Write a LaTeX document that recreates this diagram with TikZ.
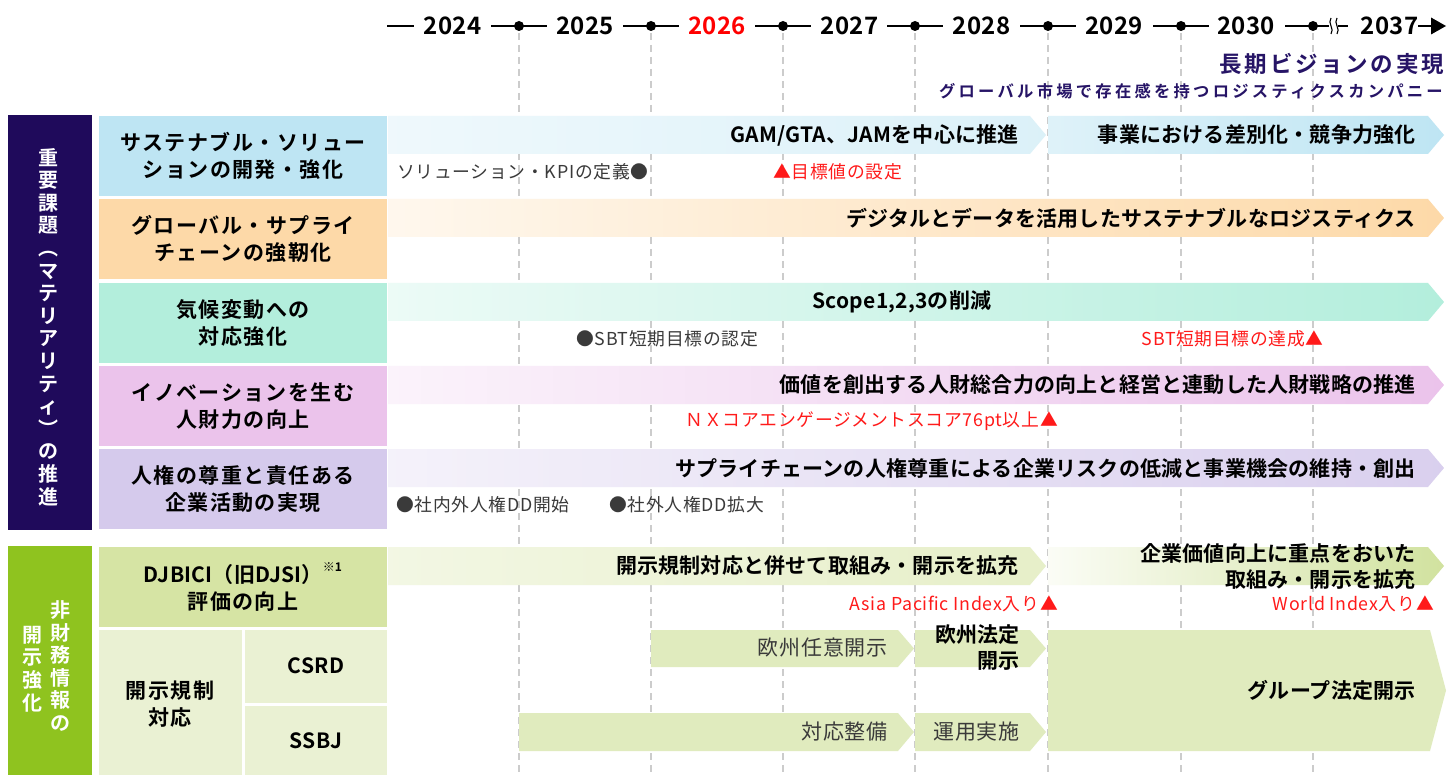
\documentclass[tikz,border=0pt]{standalone}
\usepackage{fontspec}
\setmainfont{Noto Sans CJK JP}[BoldFont={Noto Sans CJK JP Bold}]
\newfontfamily\lblfont{Noto Sans CJK JP Bold}[LetterSpace=7]
\newfontfamily\barfont{Noto Sans CJK JP Bold}[LetterSpace=1]
\newfontfamily\ttlfont{Noto Sans CJK JP Bold}[LetterSpace=12]
\newfontfamily\stlfont{Noto Sans CJK JP Bold}[LetterSpace=20]
\newfontfamily\subfont{Noto Sans CJK JP}[LetterSpace=4]
\newfontfamily\vfont{Noto Sans CJK JP Bold}
\definecolor{purp}{HTML}{1F0A5B}
\definecolor{grn}{HTML}{8FC31F}
\definecolor{navy}{HTML}{261466}
\definecolor{nxred}{HTML}{FF1A1A}
\definecolor{txtgray}{HTML}{3A3A3A}
\definecolor{gridgray}{HTML}{CCCCCC}
\definecolor{ca}{HTML}{BEE5F3}
\definecolor{cb}{HTML}{FDD9A8}
\definecolor{cc}{HTML}{B3EEDC}
\definecolor{cd}{HTML}{EBC3EB}
\definecolor{ce}{HTML}{D5CAEC}
\definecolor{cf}{HTML}{D6E4A4}
\definecolor{cfd}{HTML}{D1E29F}
\definecolor{cg}{HTML}{EAF1D3}
\definecolor{gbar}{HTML}{E0EBBE}
\newcommand\chevbar[6]{\shade[left color=#5,right color=#6] (#1,#3) -- ({#2-16},#3) -- (#2,{(#3+#4)/2}) -- ({#2-16},#4) -- (#1,#4) -- cycle;}
\begin{document}
\begin{tikzpicture}[x=1pt,y=-1pt,
  lbl/.style={font=\lblfont\fontsize{21}{27}\selectfont, align=center, inner sep=0pt, text=black},
  lbllat/.style={font=\barfont\fontsize{21}{27}\selectfont, align=center, inner sep=0pt, text=black},
  bartxt/.style={font=\barfont\fontsize{21}{26}\selectfont, anchor=east, align=right, inner sep=0pt, text=black},
  plaintxt/.style={font=\subfont\fontsize{21}{26}\selectfont, anchor=east, inner sep=0pt, text=txtgray},
  sub/.style={font=\subfont\fontsize{17.8}{20}\selectfont, inner sep=0pt, text=txtgray},
  subred/.style={sub, text=nxred},
  yr/.style={font=\barfont\fontsize{24}{28}\selectfont, inner sep=0pt},
  vtxt/.style={font=\vfont\fontsize{20}{22.6}\selectfont, align=center, inner sep=0pt, text=white},
  gridline/.style={draw=gridgray, line width=1.2pt, dash pattern=on 7pt off 5pt},
  tl/.style={line width=2.2pt, draw=black}
]
\useasboundingbox (0,0) rectangle (1448,775);
\fill[white] (0,0) rectangle (1448,775);

% grid lines
\foreach \xx in {519,651,783,915,1048,1181,1313}{
  \draw[gridline] (\xx,33) -- (\xx,775);
}

% timeline
\node[yr] (y2024) at (452.5,26) {2024};
\node[yr] (y2025) at (585,26) {2025};
\node[yr, text=red] (y2026) at (717,26) {2026};
\node[yr] (y2027) at (849.5,26) {2027};
\node[yr] (y2028) at (981.5,26) {2028};
\node[yr] (y2029) at (1114,26) {2029};
\node[yr] (y2030) at (1246,26) {2030};
\node[yr] (y2037) at (1389.5,26) {2037};
\draw[tl] (387,26) -- (414,26);
\foreach \xx in {519,651,783,915,1048,1181}{
  \draw[tl] (\xx-28,26) -- (\xx+28,26);
  \fill (\xx,26) circle (5);
}
\draw[tl] (1285,26) -- (1329,26);
\draw[tl] (1338,26) -- (1348,26);
\fill (1313,26) circle (5);
\draw[line width=1.1pt] (1331,18) .. controls (1327,23) and (1335,29) .. (1331,34);
\draw[line width=1.1pt] (1337,18) .. controls (1333,23) and (1341,29) .. (1337,34);
\draw[tl] (1418,26) -- (1432,26);
\fill (1431,17.5) -- (1446,26) -- (1431,34.5) -- cycle;

% vision
\node[anchor=east, font=\ttlfont\fontsize{22.5}{26}\selectfont, text=navy, inner sep=0pt] (vision) at (1444,64) {長期ビジョンの実現};
\node[anchor=east, font=\stlfont\fontsize{16.3}{20}\selectfont, text=navy, inner sep=0pt] (vsub) at (1443,91) {グローバル市場で存在感を持つロジスティクスカンパニー};

% left columns
\fill[purp] (8,115) rectangle (92,530);
\node[vtxt] (mat) at (48,327) {重\\要\\課\\題\\︵\\マ\\テ\\リ\\ア\\リ\\テ\\ィ\\︶\\の\\推\\進};
\fill[grn] (8,546) rectangle (92,775);
\node[vtxt] (nf1) at (60,666) {非\\財\\務\\情\\報\\の};
\node[vtxt] (nf2) at (33,669) {開\\示\\強\\化};

% row label boxes
\fill[ca] (99,116) rectangle (387,196);
\node[lbl] (m1) at (243,156) {サステナブル・ソリュー\\ションの開発・強化};
\fill[cb] (99,199) rectangle (387,279);
\node[lbl] (m2) at (243,239) {グローバル・サプライ\\チェーンの強靭化};
\fill[cc] (99,283) rectangle (387,363);
\node[lbl] (m3) at (243,323) {気候変動への\\対応強化};
\fill[cd] (99,366) rectangle (387,446);
\node[lbl] (m4) at (243,406) {イノベーションを生む\\人財力の向上};
\fill[ce] (99,449) rectangle (387,529);
\node[lbl] (m5) at (243,489) {人権の尊重と責任ある\\企業活動の実現};
\fill[cf] (99,547) rectangle (387,627);
\node[lbllat] (d1) at (243,587) {DJBICI（旧DJSI）\raisebox{0.55em}{\fontsize{12}{12}\selectfont ※1}\\{\lblfont 評価の向上}};
\fill[cg] (99,630) rectangle (242,775);
\node[lbl] (d2) at (170,704) {開示規制\\対応};
\fill[cg] (245,630) rectangle (387,703);
\node[lbllat] (d3) at (316,666) {CSRD};
\fill[cg] (245,706) rectangle (387,775);
\node[lbllat] (d4) at (316,741) {SSBJ};

% row 1
\chevbar{388}{1046}{116}{154}{ca!25}{ca!55}
\node[bartxt] (t1a) at (1019,135) {GAM/GTA、JAMを中心に推進};
\chevbar{1048}{1444}{116}{154}{ca!50}{ca}
\node[bartxt] (t1b) at (1416,135) {事業における差別化・競争力強化};
\node[sub, anchor=west] (s1a) at (397,172) {ソリューション・KPIの定義●};
\node[subred, anchor=west] (s1b) at (773,172) {▲目標値の設定};

% row 2
\chevbar{388}{1444}{199}{237}{cb!20}{cb}
\node[bartxt] (t2) at (1416,218) {デジタルとデータを活用したサステナブルなロジスティクス};

% row 3
\chevbar{388}{1444}{283}{321}{cc!25}{cc}
\node[bartxt, anchor=center] (t3) at (902,302) {Scope1,2,3の削減};
\node[sub, anchor=west] (s3a) at (576,339) {●SBT短期目標の認定};
\node[subred, anchor=east] (s3b) at (1324,339) {SBT短期目標の達成▲};

% row 4
\chevbar{388}{1444}{366}{404}{cd!20}{cd}
\node[bartxt] (t4) at (1416,385) {価値を創出する人財総合力の向上と経営と連動した人財戦略の推進};
\node[subred, anchor=east] (s4) at (1058,421) {ＮＸコアエンゲージメントスコア76pt以上▲};

% row 5
\chevbar{388}{1444}{449}{487}{ce!25}{ce!90}
\node[bartxt] (t5) at (1416,468) {サプライチェーンの人権尊重による企業リスクの低減と事業機会の維持・創出};
\node[sub, anchor=west] (s5a) at (396,505) {●社内外人権DD開始};
\node[sub, anchor=west] (s5b) at (609,505) {●社外人権DD拡大};

% DJBICI
\chevbar{388}{1046}{547}{585}{cf!30}{cf!60}
\node[bartxt] (t6a) at (1019,566) {開示規制対応と併せて取組み・開示を拡充};
\chevbar{1048}{1444}{547}{585}{cf!10}{cfd}
\node[bartxt] (t6b) at (1416,566) {企業価値向上に重点をおいた\\取組み・開示を拡充};
\node[subred, anchor=east] (s6a) at (1058,604) {Asia Pacific Index入り▲};
\node[subred, anchor=east] (s6b) at (1434,604) {World Index入り▲};

% CSRD / SSBJ
\chevbar{651}{914}{630}{667}{gbar}{gbar}
\node[plaintxt] (c1) at (888,648) {欧州任意開示};
\chevbar{915}{1046}{630}{667}{gbar}{gbar}
\node[bartxt] (c2) at (1020,648) {欧州法定\\開示};
\chevbar{519}{914}{713}{751}{gbar}{gbar}
\node[plaintxt] (c3) at (888,732) {対応整備};
\chevbar{915}{1046}{713}{751}{gbar}{gbar}
\node[plaintxt] (c4) at (1020,732) {運用実施};
\chevbar{1048}{1446}{630}{751}{gbar}{gbar}
\node[bartxt] (c5) at (1416,690) {グループ法定開示};
\end{tikzpicture}
\end{document}
